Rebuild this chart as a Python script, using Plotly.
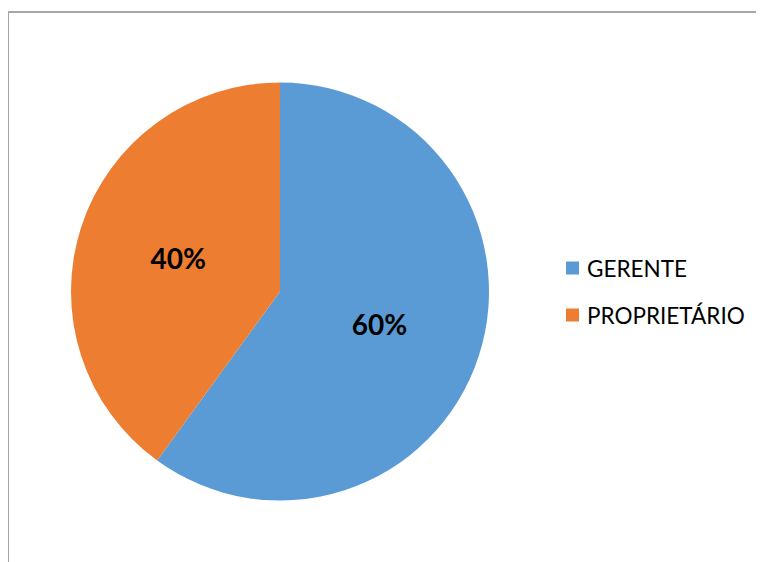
import plotly.graph_objects as go

labels = ["GERENTE", "PROPRIETÁRIO"]
values = [60, 40]
colors = ["#5B9BD5", "#ED7D31"]

# page body has an 8px margin, so the figure is 8px smaller and offset
OFF = 8
W, H = 764 - OFF, 562 - OFF

def px(x):
    return (x - OFF) / W

def py(y):
    return 1 - (y - OFF) / H

fig = go.Figure()
fig.add_trace(go.Pie(
    labels=labels,
    values=values,
    marker=dict(colors=colors, line=dict(color="white", width=0)),
    sort=False,
    direction="clockwise",
    rotation=0,
    textinfo="percent",
    textposition="inside",
    insidetextorientation="horizontal",
    textfont=dict(family="Lato", size=28, color="black", weight="bold"),
    showlegend=False,
    domain=dict(x=[px(71), px(489)], y=[py(501), py(82)]),
    hoverinfo="label+percent",
))

shapes = [
    dict(type="line", xref="paper", yref="paper", x0=px(8), x1=px(766), y0=py(12), y1=py(12),
         line=dict(color="#A6A6A6", width=2)),
    dict(type="line", xref="paper", yref="paper", x0=px(8), x1=px(8), y0=py(12), y1=py(564),
         line=dict(color="#A6A6A6", width=2)),
]
annotations = []
legend_y = [268, 315]
for lab, col, yc in zip(labels, colors, legend_y):
    shapes.append(dict(type="rect", xref="paper", yref="paper",
                       x0=px(566), x1=px(579), y0=py(yc + 6.5), y1=py(yc - 6.5),
                       fillcolor=col, line=dict(width=0)))
    annotations.append(dict(xref="paper", yref="paper", x=px(585), y=py(yc),
                            xanchor="left", yanchor="middle", showarrow=False,
                            text=lab, font=dict(family="Lato", size=22.5, color="black")))

fig.update_layout(
    width=W, height=H,
    margin=dict(l=0, r=0, t=0, b=0),
    paper_bgcolor="white",
    plot_bgcolor="white",
    shapes=shapes,
    annotations=annotations,
)

fig.write_html("out.html")
